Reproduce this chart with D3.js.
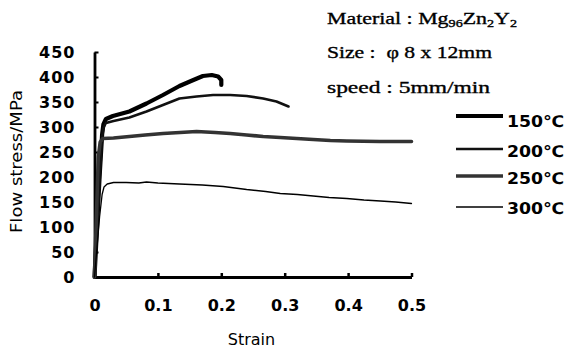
<!DOCTYPE html>
<html><head><meta charset="utf-8">
<script src="https://cdn.jsdelivr.net/npm/d3@7"></script>
<style>body{margin:0;background:#fff}svg{display:block}</style>
</head><body>
<svg id="c" width="565" height="348"></svg>
<script>
const xTicks = [0, 0.1, 0.2, 0.3, 0.4, 0.5];
const xTickLabels = ["0", "0.1", "0.2", "0.3", "0.4", "0.5"];
const yTicks = [0, 50, 100, 150, 200, 250, 300, 350, 400, 450];
const yTickLabels = ["0", "50", "100", "150", "200", "250", "300", "350", "400", "450"];
const seriesNames = ["150℃", "200℃", "250℃", "300℃"];

const strain150 = [0, 0.004, 0.008, 0.012, 0.014, 0.018, 0.029, 0.055, 0.082, 0.108, 0.134, 0.156, 0.171, 0.185, 0.195, 0.2, 0.2];
const stress150 = [0, 100, 200, 285, 305, 316, 322, 331, 347, 364, 382, 394, 402, 404, 401, 394, 384];
const strain200 = [0, 0.004, 0.008, 0.012, 0.014, 0.018, 0.03, 0.055, 0.082, 0.108, 0.134, 0.161, 0.187, 0.214, 0.24, 0.266, 0.287, 0.306];
const stress200 = [0, 95, 190, 280, 298, 308, 312, 319, 331, 344, 357, 361, 364, 364, 362, 357, 351, 341];
const strain250 = [0, 0.003, 0.006, 0.009, 0.013, 0.03, 0.055, 0.08, 0.108, 0.135, 0.161, 0.19, 0.214, 0.24, 0.266, 0.293, 0.319, 0.345, 0.372, 0.398, 0.45, 0.5];
const stress250 = [0, 120, 240, 270, 277, 278, 281, 284, 287, 289, 291, 289, 287, 284, 281, 279, 277, 275, 273, 272, 271, 271];
const strain300 = [0, 0.004, 0.008, 0.012, 0.015, 0.02, 0.03, 0.05, 0.07, 0.082, 0.1, 0.134, 0.17, 0.203, 0.24, 0.27, 0.293, 0.32, 0.345, 0.37, 0.398, 0.425, 0.451, 0.475, 0.5];
const stress300 = [0, 60, 120, 165, 180, 186, 189, 189, 188, 190, 188, 186, 184, 181, 175, 171, 167, 165, 162, 159, 157, 154, 152, 150, 147];

const strains = [strain150, strain200, strain250, strain300];
const stresses = [stress150, stress200, stress250, stress300];
const widths = [4.2, 2.6, 3.6, 1.3];
const colors = ["#000", "#111", "#333", "#000"];

const svg = d3.select("#c");
const x = d3.scaleLinear().domain([0, 0.5]).range([94.5, 411.5]);
const y = d3.scaleLinear().domain([0, 450]).range([277, 52]);

const xAxis = svg.append("g").attr("transform", "translate(0,277)")
  .call(d3.axisBottom(x).tickValues(xTicks).tickFormat((d, i) => xTickLabels[i]).tickSize(-4).tickSizeOuter(0).tickPadding(23));
xAxis.select(".domain").attr("stroke-width", 2.8);
xAxis.selectAll(".tick line").attr("stroke-width", 2.5);
xAxis.selectAll("text").attr("font-family", "DejaVu Sans").attr("font-weight", "bold").attr("font-size", 16).attr("fill", "#000");

const yAxis = svg.append("g").attr("transform", "translate(94.5,0)")
  .call(d3.axisLeft(y).tickValues(yTicks).tickFormat((d, i) => yTickLabels[i]).tickSize(-4).tickSizeOuter(0).tickPadding(19));
yAxis.select(".domain").attr("stroke-width", 2.8);
yAxis.selectAll(".tick line").attr("stroke-width", 2);
yAxis.selectAll("text").attr("font-family", "DejaVu Sans").attr("font-weight", "bold").attr("font-size", 16).attr("letter-spacing", 1).attr("fill", "#000");

const line = d3.line().x(d => x(d[0])).y(d => y(d[1])).curve(d3.curveMonotoneX);
strains.forEach((s, k) => {
  const pts = s.map((v, i) => [v, stresses[k][i]]);
  svg.append("path").attr("d", d3.line().x(d => x(d[0])).y(d => y(d[1]))(pts)).attr("fill", "none")
    .attr("stroke", colors[k]).attr("stroke-width", widths[k])
    .attr("stroke-linejoin", "round").attr("stroke-linecap", "round");
});

// legend
const legY = [116, 149, 176, 207];
const legText = [127, 156.5, 183.5, 213.5];
seriesNames.forEach((n, k) => {
  svg.append("line").attr("x1", 456).attr("x2", 503).attr("y1", legY[k]).attr("y2", legY[k])
    .attr("stroke", colors[k]).attr("stroke-width", widths[k]);
  svg.append("text").attr("x", 507).attr("y", legText[k]).text(n)
    .attr("font-family", "DejaVu Sans").attr("font-weight", "bold").attr("font-size", 16)
    .attr("textLength", 57).attr("lengthAdjust", "spacingAndGlyphs");
});

// axis titles
svg.append("text").attr("x", 251.5).attr("y", 345).attr("text-anchor", "middle")
  .attr("font-family", "DejaVu Sans").attr("font-size", 16).text("Strain");
svg.append("text").attr("transform", "translate(21.5,161.5) rotate(-90)").attr("text-anchor", "middle")
  .attr("font-family", "DejaVu Sans").attr("font-size", 16)
  .attr("textLength", 143).attr("lengthAdjust", "spacingAndGlyphs").text("Flow stress/MPa");

// annotation
const serif = "Liberation Serif";
const ann = svg.append("g").attr("font-family", serif).attr("font-size", 17)
  .attr("stroke", "#000").attr("stroke-width", 0.35);
const t1 = ann.append("text").attr("x", 327).attr("y", 24)
  .attr("textLength", 190).attr("lengthAdjust", "spacingAndGlyphs");
t1.append("tspan").text("Material : Mg");
t1.append("tspan").attr("font-size", 11).attr("dy", 3).text("96");
t1.append("tspan").attr("dy", -3).text("Zn");
t1.append("tspan").attr("font-size", 11).attr("dy", 3).text("2");
t1.append("tspan").attr("dy", -3).text("Y");
t1.append("tspan").attr("font-size", 11).attr("dy", 3).text("2");
ann.append("text").attr("x", 327).attr("y", 58)
  .attr("textLength", 165).attr("lengthAdjust", "spacingAndGlyphs").attr("xml:space", "preserve")
  .text("Size :  φ 8 x 12mm");
ann.append("text").attr("x", 327).attr("y", 93)
  .attr("textLength", 163).attr("lengthAdjust", "spacingAndGlyphs")
  .text("speed : 5mm/min");
</script>
</body></html>
